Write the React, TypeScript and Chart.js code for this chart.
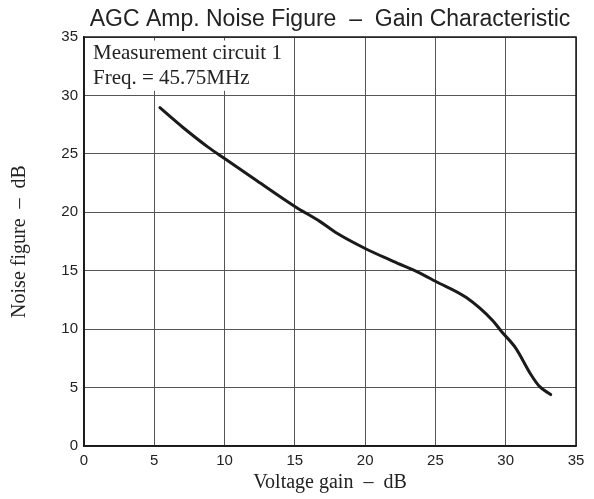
import { useEffect, useRef } from "react";
import { Chart, registerables } from "chart.js";

Chart.register(...registerables);

const TITLE = "AGC Amp. Noise Figure  \u2013  Gain Characteristic";
const X_TITLE = "Voltage gain  \u2013  dB";
const Y_TITLE = "Noise figure  \u2013  dB";
const NOTE_LINES = ["Measurement circuit 1", "Freq. = 45.75MHz"];

const GAIN_DB = [5.4, 7, 8.8, 10, 12.3, 15, 16.8, 18, 20, 22, 23.9, 25, 27.2, 29.1, 29.7, 30.7, 31.8, 32.4, 33.2];
const NOISE_FIGURE_DB = [28.95, 27.3, 25.6, 24.6, 22.7, 20.5, 19.2, 18.2, 16.9, 15.8, 14.8, 14.1, 12.7, 10.7, 9.8, 8.4, 6.1, 5.1, 4.4];

const X_MIN = 0;
const X_MAX = 35;
const X_STEP = 5;
const Y_MIN = 0;
const Y_MAX = 35;
const Y_STEP = 5;

const SANS = "'Liberation Sans', Arial, sans-serif";
const SERIF = "'Liberation Serif', 'Times New Roman', serif";

const notePlugin = {
  id: "noteBox",
  beforeDatasetsDraw(chart: any) {
    const { ctx, scales } = chart;
    const xs = scales.x;
    const ys = scales.y;
    const left = xs.getPixelForValue(0) + 1;
    const right = xs.getPixelForValue(15) - 1;
    const top = ys.getPixelForValue(34.7);
    const bottom = ys.getPixelForValue(30.4);
    ctx.save();
    ctx.fillStyle = "#ffffff";
    ctx.fillRect(left, top, right - left, bottom - top);
    ctx.fillStyle = "#222222";
    ctx.font = `21px ${SERIF}`;
    ctx.textBaseline = "alphabetic";
    ctx.textAlign = "left";
    const chartTop = chart.chartArea.top;
    ctx.fillText(NOTE_LINES[0], left + 8, chartTop + 22);
    ctx.fillText(NOTE_LINES[1], left + 8, chartTop + 47);
    ctx.restore();
  },
  afterDatasetsDraw(chart: any) {
    const { ctx, chartArea } = chart;
    ctx.save();
    ctx.strokeStyle = "#1a1a1a";
    ctx.lineWidth = 1.5;
    ctx.strokeRect(chartArea.left, chartArea.top, chartArea.right - chartArea.left, chartArea.bottom - chartArea.top);
    ctx.restore();
  },
};

export default function App() {
  const canvasRef = useRef<HTMLCanvasElement | null>(null);

  useEffect(() => {
    if (!canvasRef.current) return;
    const data = GAIN_DB.map((x, i) => ({ x, y: NOISE_FIGURE_DB[i] }));
    const chart = new Chart(canvasRef.current, {
      type: "line",
      data: {
        datasets: [
          {
            data,
            borderColor: "#1a1a1a",
            borderWidth: 3,
            pointRadius: 0,
            cubicInterpolationMode: "monotone",
            borderCapStyle: "round",
            borderJoinStyle: "round",
            fill: false,
          },
        ],
      },
      options: {
        responsive: false,
        animation: false,
        devicePixelRatio: 1,
        layout: { padding: { left: 0, right: 18, top: 0, bottom: 0 } },
        plugins: {
          legend: { display: false },
          tooltip: { enabled: false },
          title: {
            display: true,
            text: TITLE,
            fullSize: false,
            color: "#222222",
            font: { family: SANS, size: 23, weight: "normal" },
            padding: { top: 6, bottom: 3.4 },
          },
        },
        scales: {
          x: {
            type: "linear",
            min: X_MIN,
            max: X_MAX,
            ticks: {
              stepSize: X_STEP,
              color: "#222222",
              font: { family: SANS, size: 15 },
              padding: 6,
              maxRotation: 0,
            },
            grid: { color: "#555555", lineWidth: 1, drawTicks: false },
            border: { color: "#1a1a1a", width: 1.5 },
            title: {
              display: true,
              text: X_TITLE,
              color: "#222222",
              font: { family: SERIF, size: 20 },
              padding: { top: 0, bottom: 4 },
            },
            afterFit: (s: any) => {
              s.height = 53;
            },
          },
          y: {
            type: "linear",
            min: Y_MIN,
            max: Y_MAX,
            ticks: {
              stepSize: Y_STEP,
              color: "#222222",
              font: { family: SANS, size: 15 },
              padding: 6,
            },
            grid: { color: "#555555", lineWidth: 1, drawTicks: false },
            border: { color: "#1a1a1a", width: 1.5 },
            title: {
              display: true,
              text: Y_TITLE,
              color: "#222222",
              font: { family: SERIF, size: 20 },
              padding: { top: 8, bottom: 0 },
            },
            afterFit: (s: any) => {
              s.width = 84;
            },
          },
        },
      },
      plugins: [notePlugin],
    });
    return () => chart.destroy();
  }, []);

  return (
    <div style={{ position: "fixed", left: 0, top: 0, width: 594, height: 499, background: "#fff" }}>
      <canvas ref={canvasRef} width={594} height={499} style={{ display: "block", width: 594, height: 499 }} />
    </div>
  );
}
